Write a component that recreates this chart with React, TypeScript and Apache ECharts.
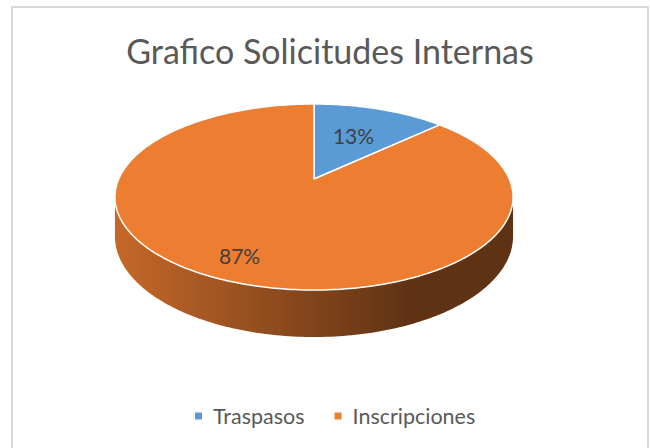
import React, { useEffect, useRef } from "react";
import * as echarts from "echarts";

const titleText = "Grafico Solicitudes Internas";
const categories = ["Traspasos", "Inscripciones"];
const values = [13, 87];
const colors = ["#5B9BD5", "#ED7D31"];
const labelRadius = [0.56, 0.82];

// projection (layout constants)
const CX = 314;
const CY = 179;
const P = 54.9;
const R = -0.1935;
const S = 195.3;
const D0 = 37.9;
const FONT = "Lato";

const total = values.reduce((a, b) => a + b, 0);
const starts: number[] = [];
{
  let acc = 0;
  values.forEach((v) => {
    starts.push((acc / total) * 360);
    acc += v;
  });
}

function proj(thetaDeg: number, f: number, depth = 0): [number, number] {
  const t = (thetaDeg * Math.PI) / 180;
  const u = f * Math.sin(t);
  const v = -f * Math.cos(t);
  const den = 1 + R * v;
  return [CX + (S * u) / den, (P * v + CY + depth) / den];
}

function shade(hex: string, k: number) {
  const n = parseInt(hex.slice(1), 16);
  const r = Math.round(((n >> 16) & 255) * k);
  const g = Math.round(((n >> 8) & 255) * k);
  const b = Math.round((n & 255) * k);
  return `rgb(${r},${g},${b})`;
}

const visA = (Math.acos(R) * 180) / Math.PI; // ~101.16
const visB = 360 - visA;

export default function App() {
  const ref = useRef<HTMLDivElement>(null);
  useEffect(() => {
    if (!ref.current) return;
    const chart = echarts.init(ref.current, undefined, { renderer: "svg" });

    const sideSeries: any = {
      type: "custom",
      coordinateSystem: "none",
      silent: true,
      z: 1,
      data: values.map((v, i) => [i, v]),
      renderItem: (params: any) => {
        const i = params.dataIndex;
        const a0 = starts[i];
        const a1 = a0 + (values[i] / total) * 360;
        const s = Math.max(a0, visA);
        const e = Math.min(a1, visB);
        if (e <= s) return { type: "group", children: [] };
        const pts: number[][] = [];
        const steps = Math.max(2, Math.ceil(e - s));
        for (let k = 0; k <= steps; k++) pts.push(proj(s + ((e - s) * k) / steps, 1, 0));
        for (let k = steps; k >= 0; k--) pts.push(proj(s + ((e - s) * k) / steps, 1, D0));
        return {
          type: "polygon",
          shape: { points: pts },
          style: {
            fill: {
              type: "linear",
              x: CX - S * 1.02,
              y: 0,
              x2: CX + S * 0.5,
              y2: 0,
              global: true,
              colorStops: [
                { offset: 0, color: shade(colors[i], 0.83) },
                { offset: 1, color: shade(colors[i], 0.4) },
              ],
            },
            stroke: null,
          },
        };
      },
    };

    const topSeries: any[] = categories.map((name, i) => ({
      type: "custom",
      name,
      coordinateSystem: "none",
      z: 2,
      itemStyle: { color: colors[i] },
      data: [[i, values[i]]],
      renderItem: () => {
        const a0 = starts[i];
        const a1 = a0 + (values[i] / total) * 360;
        const pts: number[][] = [proj(0, 0)];
        const steps = Math.max(2, Math.ceil(a1 - a0));
        for (let k = 0; k <= steps; k++) pts.push(proj(a0 + ((a1 - a0) * k) / steps, 1));
        const mid = (a0 + a1) / 2;
        const lp = proj(mid, labelRadius[i]);
        return {
          type: "group",
          children: [
            {
              type: "polygon",
              shape: { points: pts },
              style: { fill: colors[i], stroke: "#ffffff", lineWidth: 1.5, lineJoin: "round" },
            },
            {
              type: "text",
              style: {
                text: Math.round((values[i] / total) * 100) + "%",
                x: lp[0],
                y: lp[1] - 2,
                fill: "#404040",
                fontSize: 21,
                fontFamily: FONT,
                align: "center",
                verticalAlign: "middle",
              },
            },
          ],
        };
      },
    }));

    chart.setOption({
      animation: false,
      backgroundColor: "#ffffff",
      title: {
        text: titleText,
        left: 325,
        textAlign: "center",
        top: 28,
        textStyle: { fontFamily: FONT, fontSize: 34, fontWeight: "normal", color: "#595959" },
      },
      legend: {
        data: categories.map((n) => ({ name: n, icon: "rect" })),
        left: 190,
        top: 400,
        itemWidth: 7,
        itemHeight: 7,
        itemGap: 30,
        selectedMode: false,
        textStyle: { fontFamily: FONT, fontSize: 21.5, color: "#595959", padding: [0, 0, 0, 6] },
      },
      graphic: [
        {
          type: "rect",
          silent: true,
          z: -10,
          shape: { x: 12, y: 7, width: 636, height: 470 },
          style: { fill: null, stroke: "#d9d9d9", lineWidth: 2 },
        },
      ],
      series: [sideSeries, ...topSeries],
    });
    return () => chart.dispose();
  }, []);
  return (
    <div
      ref={ref}
      style={{ position: "absolute", left: 0, top: 0, width: 650, height: 448 }}
    />
  );
}
